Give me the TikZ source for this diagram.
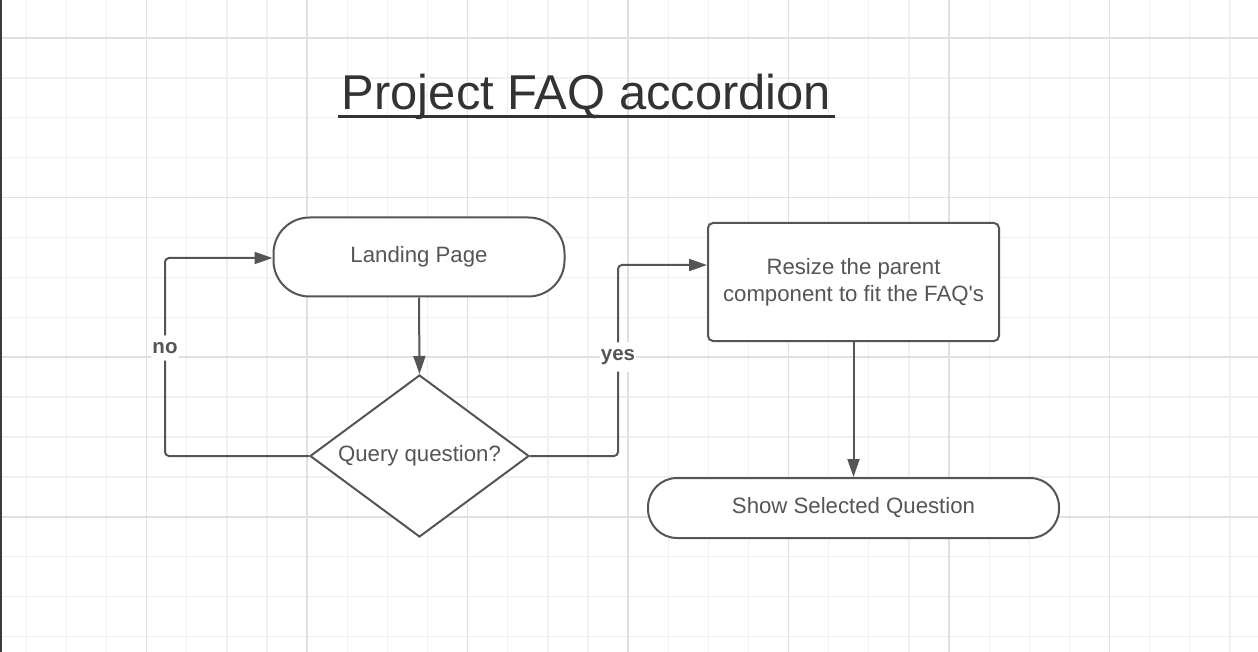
\documentclass[tikz,border=0pt]{standalone}
\usepackage{fontspec}
\setmainfont{Liberation Sans}[Ligatures=TeXOff]
\usetikzlibrary{shapes.geometric,arrows.meta}
\definecolor{lc}{HTML}{555555}
\definecolor{gridminor}{HTML}{F0F0F0}
\definecolor{gridmajor}{HTML}{E0E0E0}
\definecolor{titlec}{HTML}{333333}
\begin{document}
\begin{tikzpicture}[x=1pt,y=-1pt,
  term/.style={draw=lc, line width=2pt, fill=white, text=lc, font=\fontsize{22.2}{26}\selectfont},
  procbox/.style={draw=lc, line width=2pt, fill=white, rounded corners=5pt, text=lc, align=center, font=\fontsize{22.2}{27}\selectfont},
  decision/.style={draw=lc, line width=2pt, fill=white, diamond, aspect=1.35, inner sep=0pt, text=lc, font=\fontsize{22.2}{26}\selectfont},
  conn/.style={draw=lc, line width=2pt, rounded corners=4pt, -{Triangle[length=18pt,width=12pt]}},
  lbl/.style={fill=white, text=lc, inner xsep=1pt, inner ysep=7pt, font=\bfseries\fontsize{20.5}{24}\selectfont}
]
\useasboundingbox (0,0) rectangle (1258,652);
\fill[white] (0,0) rectangle (1258,652);
% grid
\foreach \i in {0,...,30} \draw[gridminor, line width=1.3pt] ({26.3+40.12*\i},0) -- ({26.3+40.12*\i},652);
\foreach \j in {0,...,15} \draw[gridminor, line width=1.3pt] (0,{38+39.9*\j}) -- (1258,{38+39.9*\j});
\foreach \i in {0,...,6} \draw[gridmajor, line width=1.5pt] ({146.7+160.48*\i},0) -- ({146.7+160.48*\i},652);
\foreach \j in {0,...,3} \draw[gridmajor, line width=1.5pt] (0,{38+159.6*\j}) -- (1258,{38+159.6*\j});
\draw[lc!70!black, line width=1.5pt] (0.75,0) -- (0.75,652);
% title
\node[text=titlec, anchor=base, inner sep=4pt, font=\fontsize{48.9}{58}\selectfont] (title) at (586.5,110) {Project FAQ accordion};
\draw[titlec, line width=2.5pt] ([yshift=-6.5pt]title.base west) -- ([yshift=-6.5pt]title.base east);
% nodes
\node[term, rounded corners=36pt, minimum width=291pt, minimum height=79pt] (land) at (419,257) {Landing Page};
\node[decision, minimum width=219pt, minimum height=162pt] (dia) at (419.5,456) {Query question?};
\node[procbox, minimum width=291pt, minimum height=118pt] (res) at (853.5,282) {Resize the parent\\component to fit the FAQ's};
\node[term, rounded corners=29pt, minimum width=411pt, minimum height=60pt] (show) at (853.5,508) {Show Selected Question};
% connectors
\draw[conn] (land.south) -- (dia.north);
\draw[conn] (dia.west) -- ++(-144,0) |- node[lbl, pos=0.273] {no} ([yshift=-1pt]land.west);
\draw[conn] (dia.east) -- ++(88,0) |- node[lbl, pos=0.259] {yes} ([yshift=17pt]res.west);
\draw[conn] (res.south) -- (show.north);
\end{tikzpicture}
\end{document}
